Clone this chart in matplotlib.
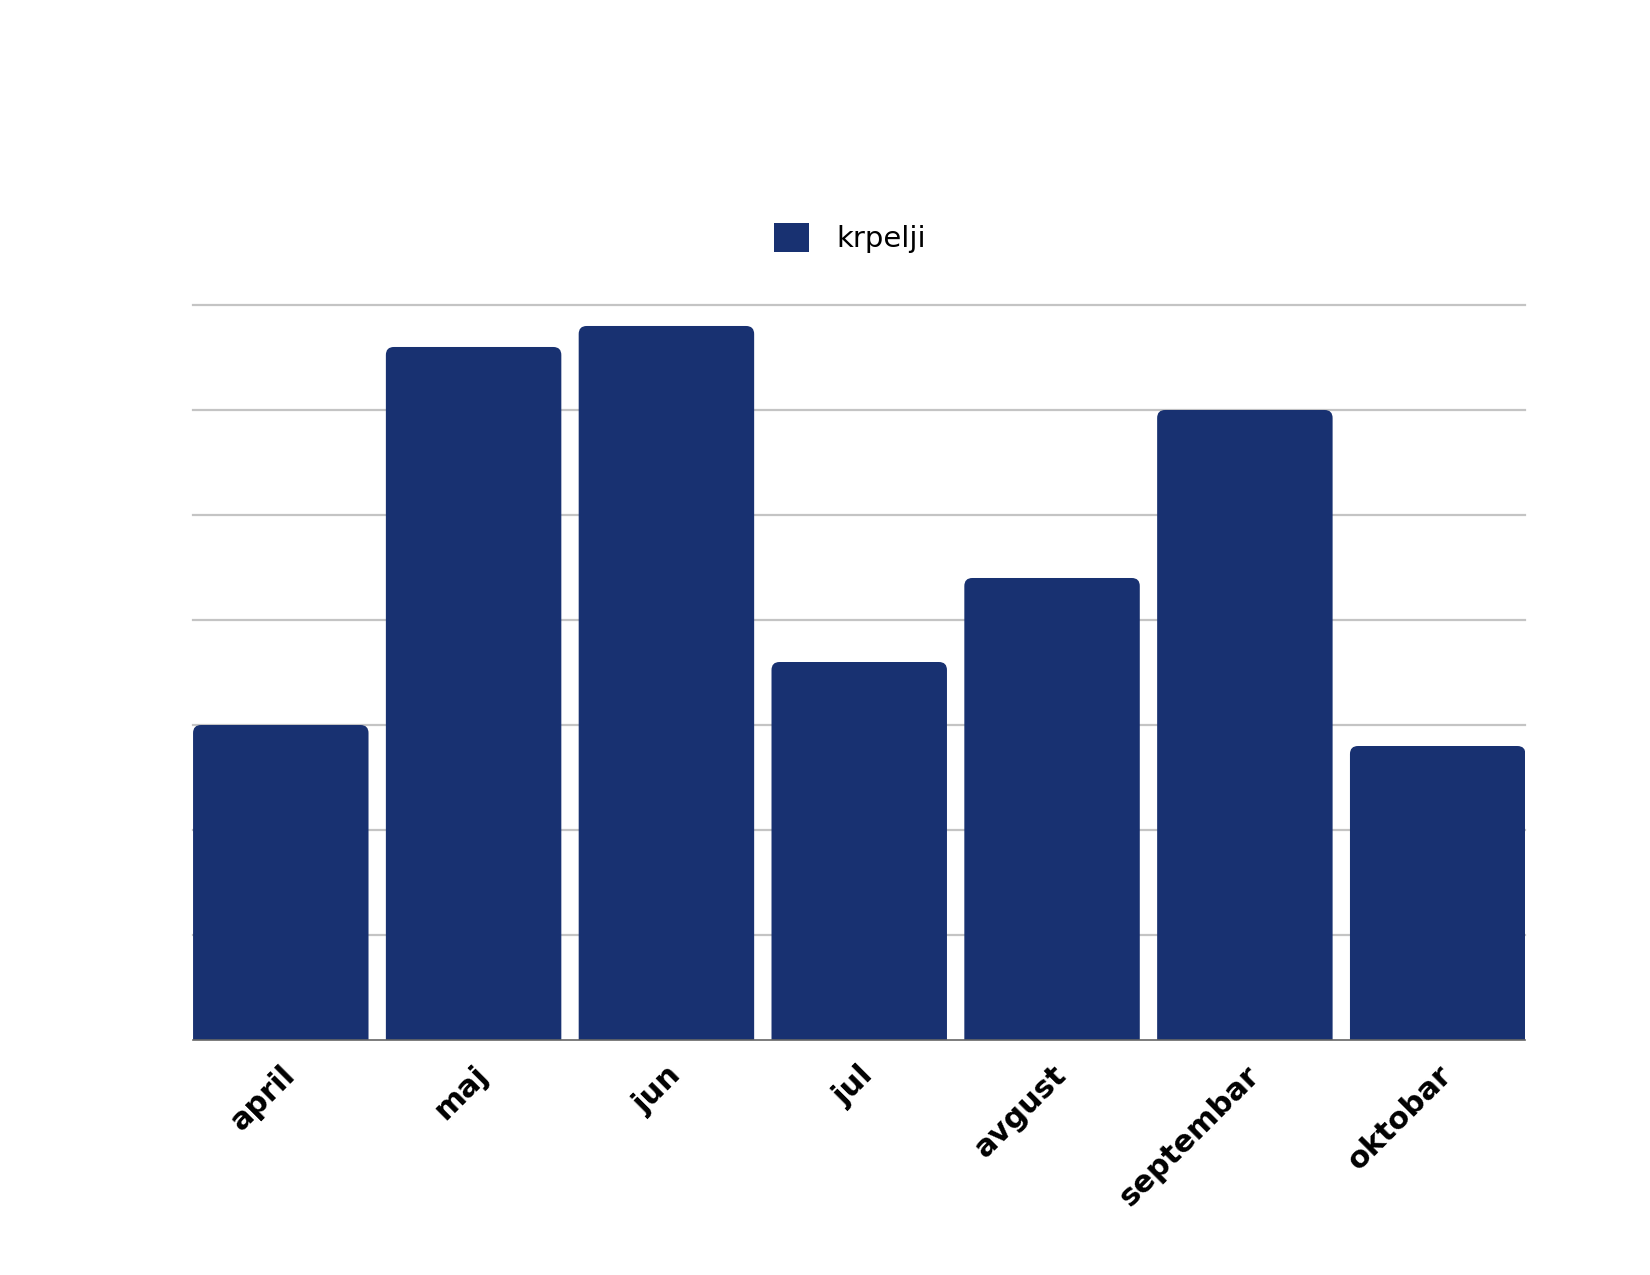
import matplotlib.pyplot as plt
import matplotlib.transforms as mtransforms
from matplotlib.patches import FancyBboxPatch

# data
months = ["april", "maj", "jun", "jul", "avgust", "septembar", "oktobar"]
krpelji = [15, 33, 34, 18, 22, 30, 14]
grid_values = [5, 10, 15, 20, 25, 30, 35]

bar_color = "#183171"

fig = plt.figure(figsize=(16.5, 12.75), dpi=100)
ax = fig.add_axes([0.117, 0.1843, 0.8075, 0.5765])

ax.set_xlim(-0.455, len(months) - 1 + 0.455)
ax.set_ylim(0, 35)

# grid lines
for g in grid_values:
    ax.axhline(g, color="#c4c4c4", lw=1.6, zorder=0, clip_on=False)

# bars with rounded tops (bottom sunk below axis and clipped)
width = 0.91
bars = ax.bar(range(len(months)), krpelji, width=width, color=bar_color)
px_x = ax.transData.transform((1, 0))[0] - ax.transData.transform((0, 0))[0]
px_y = ax.transData.transform((0, 1))[1] - ax.transData.transform((0, 0))[1]
radius_px = 8.0
for b in bars:
    b.set_visible(False)
    x0 = b.get_x()
    h = b.get_height()
    p = FancyBboxPatch((x0, -2), width, h + 2,
                       boxstyle="round,pad=0,rounding_size=%f" % (radius_px / px_x),
                       mutation_aspect=px_x / px_y,
                       fc=bar_color, ec="none", zorder=2)
    ax.add_patch(p)

ax.axhline(0, color="#666666", lw=1.2, zorder=3, clip_on=False)

for s in ax.spines.values():
    s.set_visible(False)
ax.set_yticks([])
ax.set_xticks(range(len(months)))
ax.set_xticklabels(months, rotation=45, ha="right", va="center",
                   rotation_mode="anchor", fontsize=22, fontweight="bold",
                   family=["DejaVu Sans"])
ax.tick_params(axis="x", length=0, pad=22)
shift = mtransforms.ScaledTranslation(10 / 100, 0, fig.dpi_scale_trans)
for lbl in ax.get_xticklabels():
    lbl.set_transform(lbl.get_transform() + shift)

# legend
leg = fig.legend([plt.Rectangle((0, 0), 1, 1, fc=bar_color)], ["krpelji"],
                 loc="center", bbox_to_anchor=(0.515, 1 - 238 / 1275), frameon=False,
                 prop={"family": ["DejaVu Sans"], "size": 21},
                 handlelength=1.2, handleheight=1.2, handletextpad=0.95)

fig.savefig("out.png", dpi=100, facecolor="white")
